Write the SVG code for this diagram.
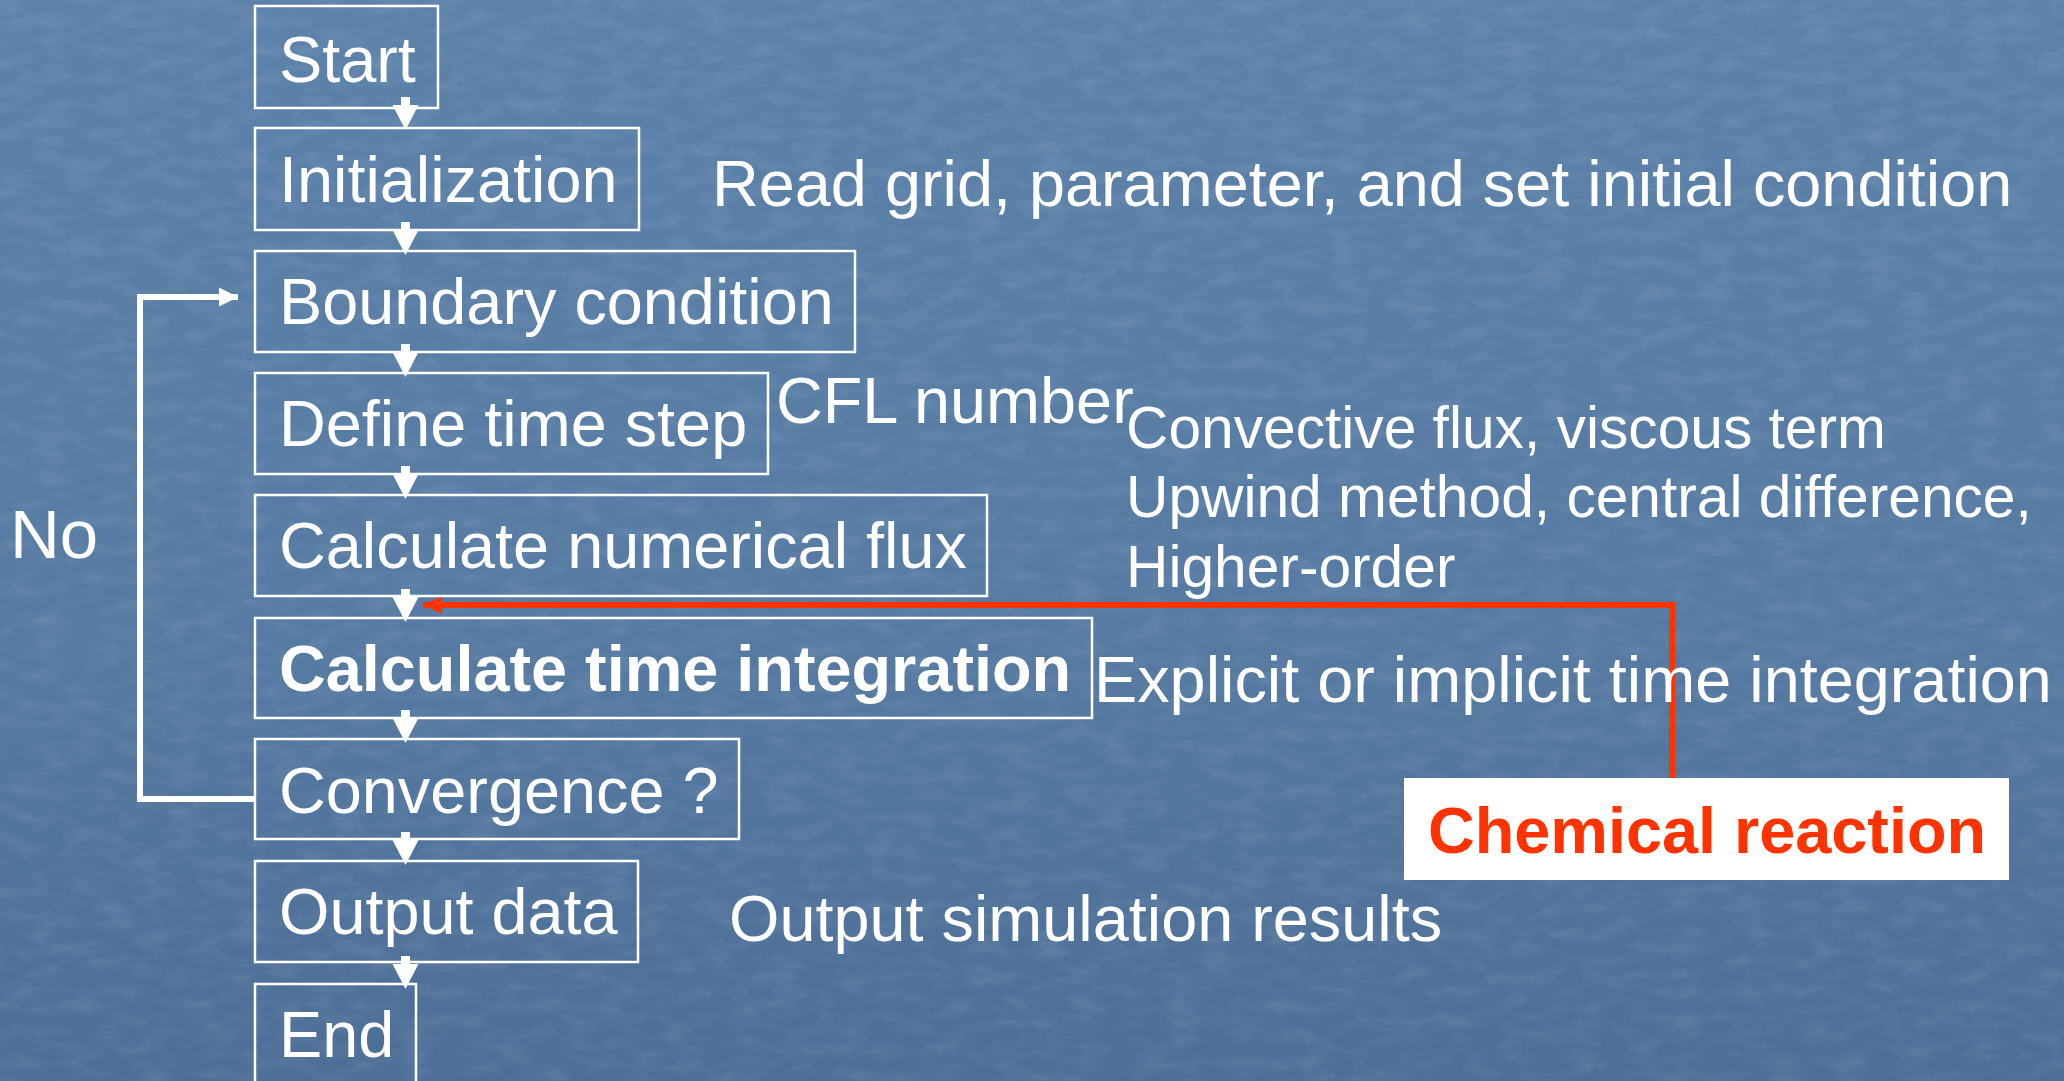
<svg xmlns="http://www.w3.org/2000/svg" width="2064" height="1081" viewBox="0 0 2064 1081">
<defs>
<linearGradient id="bg" x1="0" y1="0" x2="0" y2="1">
<stop offset="0" stop-color="#5d82aa"/>
<stop offset="0.6" stop-color="#567aa2"/>
<stop offset="1" stop-color="#4d6e96"/>
</linearGradient>
<filter id="tex" x="0" y="0" width="100%" height="100%">
<feTurbulence type="fractalNoise" baseFrequency="0.03 0.07" numOctaves="4" seed="11"/>
<feColorMatrix type="matrix" values="0 0 0 0 1  0 0 0 0 1  0 0 0 0 1  0.6 0 0 0 -0.25"/>
</filter>
<g id="dn">
<rect x="-4.5" y="-33" width="9" height="9"/>
<path d="M-13,-25 L13,-25 L0,0 Z"/>
</g>
<marker id="wh" markerUnits="userSpaceOnUse" markerWidth="22" markerHeight="22" refX="19" refY="9.5" orient="auto">
<path d="M0,0 L19,9.5 L0,19 Z" fill="#ffffff"/>
</marker>
<marker id="rh" markerUnits="userSpaceOnUse" markerWidth="22" markerHeight="22" refX="19" refY="9" orient="auto">
<path d="M0,0 L19,9 L0,18 Z" fill="#ff3300"/>
</marker>
<style>
.box{fill:none;stroke:#ffffff;stroke-width:2.5}
.t{font-family:"Liberation Sans",Arial,sans-serif;font-size:64.8px;fill:#ffffff}
.b{font-weight:bold}
.s{font-size:58.7px}
.loop{fill:none;stroke:#ffffff;stroke-width:6}
.red{fill:none;stroke:#ff3300;stroke-width:6}
</style>
</defs>
<rect x="0" y="0" width="2064" height="1081" fill="url(#bg)"/>
<rect x="0" y="0" width="2064" height="1081" filter="url(#tex)" opacity="0.3"/>

<g id="connectors">
<g fill="#ffffff">
<use href="#dn" transform="translate(405.5,130)"/>
<use href="#dn" transform="translate(405.5,255)"/>
<use href="#dn" transform="translate(405.5,377)"/>
<use href="#dn" transform="translate(405.5,499)"/>
<use href="#dn" transform="translate(405.5,622)"/>
<use href="#dn" transform="translate(405.5,743)"/>
<use href="#dn" transform="translate(405.5,865)"/>
<use href="#dn" transform="translate(405.5,989)"/>
</g>
<polyline class="loop" points="255,799 140,799 140,297 238,297" marker-end="url(#wh)"/>
<polyline class="red" points="1672,778 1672,605 423,605" marker-end="url(#rh)"/>
</g>

<g id="n-start"><rect class="box" x="255" y="6" width="183" height="102"/><text class="t" x="279" y="82">Start</text></g>
<g id="n-init"><rect class="box" x="255" y="128" width="384" height="102"/><text class="t" x="279" y="202">Initialization</text></g>
<g id="n-boundary"><rect class="box" x="255" y="251" width="600" height="101"/><text class="t" x="279" y="324">Boundary condition</text></g>
<g id="n-define"><rect class="box" x="255" y="373" width="513" height="101"/><text class="t" x="279" y="446">Define time step</text></g>
<g id="n-flux"><rect class="box" x="255" y="495" width="732" height="101"/><text class="t" x="279" y="568">Calculate numerical flux</text></g>
<g id="n-time"><rect class="box" x="255" y="618" width="837" height="100"/><text class="t b" x="279" y="691">Calculate time integration</text></g>
<g id="n-conv"><rect class="box" x="255" y="739" width="484" height="100"/><text class="t" x="279" y="813">Convergence ?</text></g>
<g id="n-output"><rect class="box" x="255" y="861" width="383" height="101"/><text class="t" x="279" y="934">Output data</text></g>
<g id="n-end"><rect class="box" x="255" y="984" width="161" height="102"/><text class="t" x="279" y="1057">End</text></g>

<g id="n-chem"><rect x="1404" y="778" width="605" height="102" fill="#ffffff"/><text class="t b" x="1707" y="853" text-anchor="middle" style="fill:#ff3300">Chemical reaction</text></g>

<g id="notes">
<text class="t" x="712" y="206">Read grid, parameter, and set initial condition</text>
<text class="t" x="776" y="423">CFL number</text>
<text class="t s" x="1126" y="448">Convective flux, viscous term</text>
<text class="t s" x="1126" y="517">Upwind method, central difference,</text>
<text class="t s" x="1126" y="587">Higher-order</text>
<text class="t" x="1094" y="702">Explicit or implicit time integration</text>
<text class="t" x="729" y="941">Output simulation results</text>
<text class="t" x="10" y="558" style="font-size:69px">No</text>
</g>
</svg>
